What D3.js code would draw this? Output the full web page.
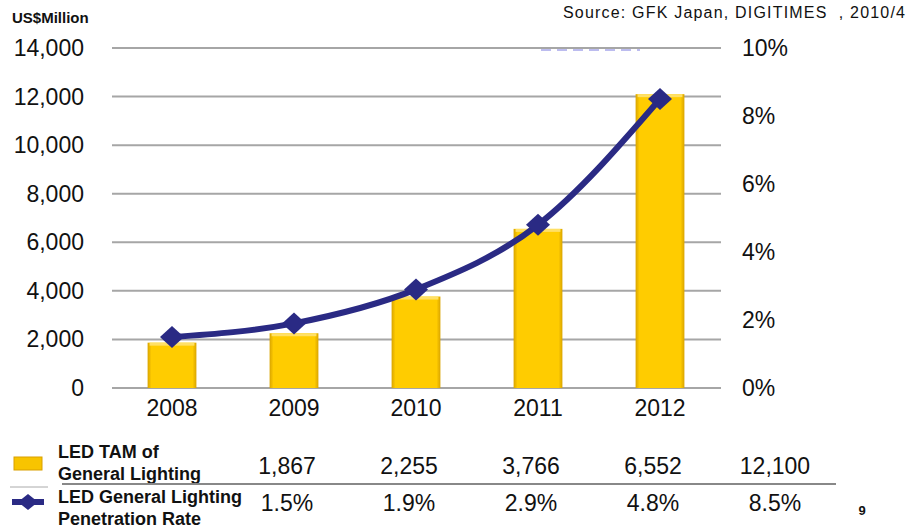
<html>
<head>
<script src="https://d3js.org/d3.v7.min.js" charset="utf-8"></script>
<style type="text/css">
	body { margin: 0; background: #fff; }
	text { font-family: "Liberation Sans", Arial, sans-serif; }
</style>
</head>
<body>
<script type="text/javascript">
	// data
	var years = ["2008", "2009", "2010", "2011", "2012"];
	var tam = [1867, 2255, 3766, 6552, 12100];
	var rate = [1.5, 1.9, 2.9, 4.8, 8.5];
	var tamLabels = ["1,867", "2,255", "3,766", "6,552", "12,100"];
	var rateLabels = ["1.5%", "1.9%", "2.9%", "4.8%", "8.5%"];
	var leftTicks = [0, 2000, 4000, 6000, 8000, 10000, 12000, 14000];
	var rightTicks = [0, 2, 4, 6, 8, 10];

	var w = 913, h = 531;
	var navy = "#2a2a84";

	var svg = d3.select("body").append("svg")
		.attr("width", w)
		.attr("height", h);

	var defs = svg.append("defs");
	var grad = defs.append("linearGradient").attr("id", "barGrad")
		.attr("x1", "0").attr("x2", "1").attr("y1", "0").attr("y2", "0");
	grad.append("stop").attr("offset", "0").attr("stop-color", "#d9a400");
	grad.append("stop").attr("offset", "0.08").attr("stop-color", "#ffcc00");
	grad.append("stop").attr("offset", "0.92").attr("stop-color", "#ffcc00");
	grad.append("stop").attr("offset", "1").attr("stop-color", "#d9a400");

	var x = d3.scaleBand().domain(years).range([111, 721]).paddingInner(0.6).paddingOuter(0.3);
	var y = d3.scaleLinear().domain([0, 14000]).range([388, 48]);
	var y2 = d3.scaleLinear().domain([0, 10]).range([388, 48]);

	// gridlines
	svg.append("g").selectAll("line").data(leftTicks).enter().append("line")
		.attr("x1", 112).attr("x2", 721)
		.attr("y1", function(d) { return y(d); })
		.attr("y2", function(d) { return y(d); })
		.attr("stroke", "#a6a6a6").attr("stroke-width", 2);

	// left axis labels
	svg.append("g").selectAll("text").data(leftTicks).enter().append("text")
		.text(function(d) { return d3.format(",")(d); })
		.attr("x", 84).attr("y", function(d) { return y(d) + 8; })
		.attr("text-anchor", "end").attr("font-size", 23).attr("fill", "#111");

	// right axis labels
	svg.append("g").selectAll("text").data(rightTicks).enter().append("text")
		.text(function(d) { return d + "%"; })
		.attr("x", 742).attr("y", function(d) { return y2(d) + 8; })
		.attr("text-anchor", "start").attr("font-size", 23).attr("fill", "#111");

	// faint remnant at top
	svg.append("line").attr("x1", 541).attr("x2", 640).attr("y1", 50).attr("y2", 50)
		.attr("stroke", "#5a5ad8").attr("stroke-width", 2).attr("stroke-dasharray", "10,6")
		.attr("opacity", 0.4);

	// bars
	svg.append("g").selectAll("rect").data(tam).enter().append("rect")
		.attr("x", function(d, i) { return x(years[i]); })
		.attr("width", x.bandwidth())
		.attr("y", function(d) { return y(d); })
		.attr("height", function(d) { return y(0) - y(d); })
		.attr("fill", "url(#barGrad)");
	svg.append("g").selectAll("rect").data(tam).enter().append("rect")
		.attr("x", function(d, i) { return x(years[i]) + 2; })
		.attr("width", x.bandwidth() - 4)
		.attr("y", function(d) { return y(d); })
		.attr("height", 3)
		.attr("fill", "#ffe066");

	// x labels
	svg.append("g").selectAll("text").data(years).enter().append("text")
		.text(function(d) { return d; })
		.attr("x", function(d) { return x(d) + x.bandwidth() / 2; })
		.attr("y", 416)
		.attr("text-anchor", "middle").attr("font-size", 23).attr("fill", "#111");

	// line
	var line = d3.line()
		.x(function(d, i) { return x(years[i]) + x.bandwidth() / 2; })
		.y(function(d) { return y2(d); })
		.curve(d3.curveMonotoneX);
	svg.append("path").datum(rate)
		.attr("d", line)
		.attr("fill", "none").attr("stroke", navy).attr("stroke-width", 6);

	var diamond = "M0,-11L12,0L0,11L-12,0Z";
	svg.append("g").selectAll("path").data(rate).enter().append("path")
		.attr("d", diamond)
		.attr("transform", function(d, i) {
			return "translate(" + (x(years[i]) + x.bandwidth() / 2) + "," + y2(d) + ")";
		})
		.attr("fill", navy);

	// headers
	svg.append("text").text("US$Million")
		.attr("x", 12).attr("y", 23).attr("font-size", 15).attr("font-weight", "bold").attr("fill", "#111");
	svg.append("text").text("Source: GFK Japan, DIGITIMES \u00a0, 2010/4")
		.attr("x", 563).attr("y", 18).attr("font-size", 16).attr("fill", "#111")
		.attr("textLength", 342).attr("lengthAdjust", "spacing");

	// table / legend
	var colX = function(i) { return x(years[i]) + x.bandwidth() / 2 + 115; };

	svg.append("rect").attr("x", 14).attr("y", 457).attr("width", 28).attr("height", 13)
		.attr("fill", "#f8c400").attr("stroke", "#d9a000").attr("stroke-width", 1);
	svg.append("line").attr("x1", 10).attr("x2", 48).attr("y1", 487).attr("y2", 487)
		.attr("stroke", "#aaa").attr("stroke-width", 1);
	svg.append("line").attr("x1", 12).attr("x2", 44).attr("y1", 502).attr("y2", 502)
		.attr("stroke", navy).attr("stroke-width", 6);
	svg.append("path").attr("d", "M0,-8L10,0L0,8L-10,0Z")
		.attr("transform", "translate(28,502)").attr("fill", navy);

	var lbl = [["LED TAM of", 458], ["General Lighting", 480], ["LED General Lighting", 503], ["Penetration Rate", 525]];
	svg.append("g").selectAll("text").data(lbl).enter().append("text")
		.text(function(d) { return d[0]; })
		.attr("x", 58).attr("y", function(d) { return d[1]; })
		.attr("font-size", 18).attr("font-weight", "bold").attr("fill", "#111");

	svg.append("line").attr("x1", 62).attr("x2", 836).attr("y1", 484).attr("y2", 484)
		.attr("stroke", "#888").attr("stroke-width", 2);

	svg.append("g").selectAll("text").data(tamLabels).enter().append("text")
		.text(function(d) { return d; })
		.attr("x", function(d, i) { return colX(i); })
		.attr("y", 474)
		.attr("text-anchor", "middle").attr("font-size", 23).attr("fill", "#111");
	svg.append("g").selectAll("text").data(rateLabels).enter().append("text")
		.text(function(d) { return d; })
		.attr("x", function(d, i) { return colX(i); })
		.attr("y", 511)
		.attr("text-anchor", "middle").attr("font-size", 23).attr("fill", "#111");

	svg.append("text").text("9")
		.attr("x", 862).attr("y", 515).attr("text-anchor", "middle")
		.attr("font-size", 13).attr("font-weight", "bold").attr("fill", "#111");
</script>
</body>
</html>
